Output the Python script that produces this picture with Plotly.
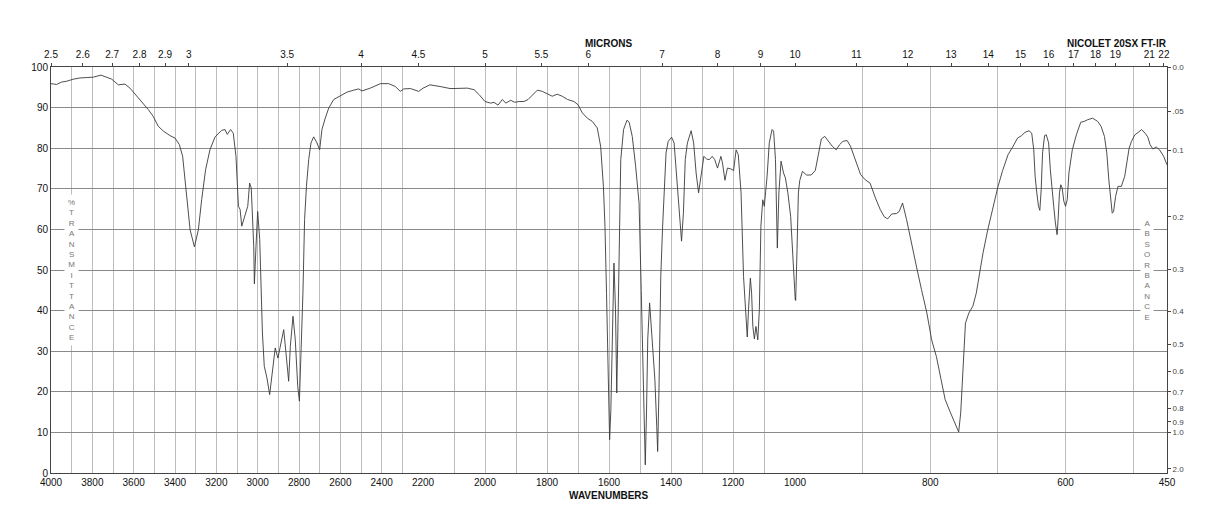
import plotly.graph_objects as go

# ---------------- data ----------------
wavenumber = [
    4000, 3973, 3948, 3924, 3892, 3860, 3827, 3795, 3758, 3731, 3706, 3674, 3642, 3618,
    3585, 3553, 3529, 3505, 3481, 3456, 3424, 3400, 3379, 3363, 3352, 3340, 3327, 3306,
    3287, 3271, 3252, 3231, 3206, 3174, 3158, 3147, 3131, 3118, 3105, 3093, 3085, 3077,
    3061, 3048, 3039, 3031, 3019, 3016, 3008, 3000, 2990, 2984, 2977, 2968, 2955, 2942,
    2931, 2915, 2902, 2890, 2874, 2863, 2850, 2842, 2829, 2818, 2806, 2798, 2789, 2781,
    2773, 2764, 2753, 2742, 2729, 2713, 2700, 2689, 2673, 2656, 2632, 2600, 2568, 2535,
    2511, 2495, 2455, 2406, 2366, 2334, 2310, 2293, 2261, 2221, 2199, 2178, 2145, 2113,
    2100, 2057, 2035, 2019, 2000, 1982, 1971, 1958, 1944, 1933, 1917, 1904, 1890, 1874,
    1861, 1847, 1831, 1815, 1799, 1783, 1767, 1751, 1734, 1713, 1700, 1686, 1670, 1654,
    1638, 1627, 1618, 1613, 1608, 1603, 1600, 1598, 1594, 1589, 1584, 1579, 1575, 1573,
    1567, 1562, 1553, 1542, 1535, 1525, 1514, 1503, 1496, 1490, 1486, 1483, 1479, 1475,
    1469, 1462, 1457, 1452, 1446, 1443, 1439, 1433, 1427, 1422, 1416, 1409, 1398, 1390,
    1382, 1374, 1366, 1360, 1354, 1347, 1335, 1327, 1319, 1311, 1303, 1294, 1285, 1276,
    1267, 1259, 1250, 1239, 1234, 1226, 1218, 1207, 1198, 1190, 1183, 1174, 1166, 1159,
    1154, 1150, 1144, 1140, 1136, 1131, 1126, 1120, 1115, 1110, 1104, 1099, 1090, 1083,
    1074, 1069, 1063, 1057, 1052, 1045, 1037, 1031, 1023, 1014, 1007, 1002, 999, 997,
    995, 993, 989, 983, 976, 970, 966, 961, 956, 951, 945, 939, 934, 929, 923, 918, 911,
    903, 896, 889, 881, 874, 868, 863, 857, 850, 846, 841, 835, 827, 820, 813, 805, 798,
    791, 784, 778, 771, 765, 761, 758, 755, 752, 750, 748, 743, 737, 732, 727, 722, 715,
    707, 700, 693, 685, 677.5, 671, 665, 660, 654, 650, 647, 645, 642.5, 640, 638, 636,
    634, 631, 628.5, 625, 622.5, 620, 617.5, 615, 612.5, 611, 609, 607, 605, 602.5, 600,
    597.5, 595, 590, 584, 577.5, 572.5, 567.5, 560, 552.5, 547.5, 542.5, 539, 536, 533.5,
    531, 529, 526, 522.5, 517.5, 512.5, 509, 506, 502.5, 497.5, 492.5, 487.5, 482.5,
    478.5, 475, 471, 466, 461, 455, 450,
]
transmittance = [
    95.9, 95.7, 96.3, 96.5, 97.0, 97.3, 97.4, 97.5, 98.0, 97.5, 97.0, 95.6, 95.8, 94.8,
    92.8, 91.1, 89.5, 87.8, 85.4, 84.2, 83.1, 82.5, 80.9, 78.0, 72.2, 65.7, 59.9, 55.7,
    59.9, 67.3, 74.7, 79.6, 82.8, 84.4, 84.6, 83.4, 84.6, 83.7, 78.0, 65.7, 64.9, 60.8,
    63.6, 65.7, 71.4, 70.2, 55.8, 46.6, 55.8, 64.4, 57.5, 47.6, 34.5, 26.3, 23.4, 19.3,
    24.2, 30.8, 28.3, 31.2, 35.3, 29.6, 22.6, 31.2, 38.6, 32.8, 21.3, 17.7, 29.6, 44.3,
    62.4, 70.6, 77.2, 81.3, 82.8, 81.3, 79.6, 84.6, 87.4, 89.9, 92.0, 92.9, 93.8, 94.3,
    94.6, 94.1, 94.8, 95.9, 95.9, 95.2, 94.0, 94.6, 94.7, 94.0, 94.8, 95.6, 95.2, 94.7,
    94.7, 94.8, 94.4, 93.2, 91.5, 91.1, 91.3, 90.6, 92.0, 91.1, 91.8, 91.3, 91.5, 91.5,
    92.0, 93.2, 94.3, 94.0, 93.4, 92.8, 93.3, 92.8, 92.0, 91.5, 90.7, 88.7, 87.4, 86.6,
    85.0, 80.5, 70.6, 60.8, 44.3, 27.9, 15.6, 8.2, 15.6, 35.5, 51.7, 40.2, 19.7, 27.9,
    52.5, 77.2, 84.6, 86.9, 86.4, 82.9, 75.5, 66.5, 45.0, 25.0, 10.0, 2.0, 15.0, 33.0,
    41.9, 34.5, 29.6, 23.0, 11.5, 5.3, 19.7, 48.4, 60.8, 70.6, 78.8, 81.7, 82.7, 81.3,
    73.1, 63.2, 57.1, 64.0, 77.2, 81.3, 84.3, 81.3, 73.9, 69.0, 73.1, 78.0, 77.3, 77.2,
    78.0, 77.2, 75.1, 78.0, 76.4, 72.1, 75.1, 74.9, 74.5, 79.6, 78.4, 69.0, 48.4, 37.8,
    33.5, 40.2, 48.0, 44.3, 36.1, 33.0, 36.1, 32.8, 40.2, 60.8, 67.3, 65.7, 73.1, 81.3,
    84.6, 84.2, 77.2, 55.4, 69.0, 76.8, 73.9, 72.7, 69.0, 63.2, 54.2, 47.0, 42.5, 55.0,
    69.0, 72.0, 74.3, 73.4, 73.4, 74.5, 78.0, 82.3, 82.9, 81.7, 80.5, 79.6, 80.9, 81.7,
    81.9, 80.5, 77.2, 73.5, 72.2, 71.4, 67.7, 64.9, 63.1, 62.6, 63.8, 63.9, 64.4, 66.5,
    62.4, 55.8, 50.5, 45.2, 39.4, 32.8, 28.7, 23.0, 18.1, 15.2, 12.8, 11.1, 10.1, 14.8,
    23.8, 32.0, 36.9, 39.4, 41.1, 44.3, 49.3, 54.2, 59.9, 65.7, 70.5, 74.5, 78.4, 80.5,
    82.5, 83.1, 83.9, 84.3, 83.7, 79.6, 73.1, 69.0, 65.7, 64.7, 69.8, 78.8, 83.1, 83.3,
    81.3, 74.7, 69.0, 65.7, 61.6, 58.7, 62.4, 69.0, 71.0, 70.2, 66.9, 65.7, 67.3, 73.9,
    79.6, 83.3, 86.4, 86.6, 87.0, 87.4, 86.6, 85.4, 82.9, 78.8, 72.2, 67.3, 64.0, 64.4,
    68.1, 70.6, 70.6, 73.1, 77.0, 80.0, 81.7, 83.3, 83.9, 84.6, 83.7, 82.8, 80.9, 79.8,
    80.3, 79.6, 78.0, 75.9,
]

# axis segments (three equal-width panels with different cm-1 scales)
segments = [(4000, 2200), (2200, 1000), (1000, 450)]
seg_grid = [
    list(range(4000, 2199, -100)),
    list(range(2100, 999, -100)),
    list(range(900, 449, -100)) + [450],
]
bottom_labels = [4000, 3800, 3600, 3400, 3200, 3000, 2800, 2600, 2400, 2200,
                 2000, 1800, 1600, 1400, 1200, 1000, 800, 600, 450]
micron_ticks = [2.5, 2.6, 2.7, 2.8, 2.9, 3, 3.5, 4, 4.5, 5, 5.5, 6, 7, 8, 9, 10,
                11, 12, 13, 14, 15, 16, 17, 18, 19, 21, 22]
absorbance_ticks = [0.0, 0.05, 0.1, 0.2, 0.3, 0.4, 0.5, 0.6, 0.7, 0.8, 0.9, 1.0, 2.0]
absorbance_labels = ["0.0", ".05", "0.1", "0.2", "0.3", "0.4", "0.5", "0.6",
                     "0.7", "0.8", "0.9", "1.0", "2.0"]

FONT = "Liberation Sans, Arial, Helvetica, sans-serif"
FRAME = "#444444"
HGRID = "#8a8a8a"
VGRID = "#bdbdbd"

fig = go.Figure()

n = len(wavenumber)
domains = [[0, 1 / 3], [1 / 3, 2 / 3], [2 / 3, 1]]
for k, (hi, lo) in enumerate(segments):
    idx = [i for i in range(n) if lo <= wavenumber[i] <= hi]
    first, last = idx[0], idx[-1]
    if first > 0:
        idx = [first - 1] + idx
    if last < n - 1:
        idx = idx + [last + 1]
    xs = [wavenumber[i] for i in idx]
    ys = [transmittance[i] for i in idx]
    sfx = "" if k == 0 else str(k + 1)
    fig.add_trace(go.Scatter(
        x=xs, y=ys, mode="lines", xaxis="x" + sfx, yaxis="y",
        line=dict(color="#3a3a3a", width=0.9), hoverinfo="skip",
    ))
    # invisible carrier trace so the top micron axis of this panel is drawn
    fig.add_trace(go.Scatter(
        x=[hi, lo], y=[50, 50], mode="markers", xaxis="x" + str(k + 4), yaxis="y",
        marker=dict(opacity=0, size=1), hoverinfo="skip",
    ))

    # bottom wavenumber axis for this panel
    labels = []
    for v in seg_grid[k]:
        if v in bottom_labels and not (k == 1 and v == 2200) and not (k == 2 and v == 1000):
            labels.append(str(v))
        else:
            labels.append("")
    fig.update_layout(**{
        "xaxis" + sfx: dict(
            domain=domains[k], range=[hi, lo], anchor="y",
            tickmode="array", tickvals=seg_grid[k], ticktext=labels,
            showgrid=True, gridcolor=VGRID, gridwidth=1,
            showline=True, linecolor=FRAME, linewidth=1,
            ticks="", zeroline=False,
            tickfont=dict(size=10, color="#111", family=FONT),
        )
    })

    # top micron axis overlaying this panel
    mic = [m for m in micron_ticks if lo <= 10000 / m <= hi]
    if k == 2:
        mic = [m for m in mic if m != 10]
    fig.update_layout(**{
        "xaxis" + str(k + 4): dict(
            domain=domains[k], range=[hi, lo], anchor="y",
            overlaying="x" + sfx, side="top",
            tickmode="array", tickvals=[10000 / m for m in mic],
            ticktext=[("%g" % m) for m in mic],
            showgrid=False, showline=True, linecolor=FRAME, linewidth=1,
            ticks="outside", ticklen=3, tickcolor=FRAME, zeroline=False,
            ticklabelstandoff=1,
            tickfont=dict(size=10, color="#111", family=FONT),
        )
    })

# invisible carrier trace for the right absorbance axis
fig.add_trace(go.Scatter(
    x=[1000, 450], y=[50, 50], mode="markers", xaxis="x3", yaxis="y2",
    marker=dict(opacity=0, size=1), hoverinfo="skip",
))

fig.update_layout(
    width=1218, height=528,
    margin=dict(l=51, r=51, t=67, b=55),
    plot_bgcolor="white", paper_bgcolor="white",
    showlegend=False,
    font=dict(family=FONT, size=10, color="#111"),
    yaxis=dict(
        range=[0, 100], anchor="x", tickmode="array",
        tickvals=list(range(0, 101, 10)),
        showgrid=True, gridcolor=HGRID, gridwidth=1,
        showline=True, linecolor=FRAME, linewidth=1,
        ticks="", zeroline=False,
        tickfont=dict(size=10, color="#111", family=FONT),
    ),
    yaxis2=dict(
        range=[0, 100], overlaying="y", side="right", anchor="x3",
        tickmode="array",
        tickvals=[100 * 10 ** (-a) for a in absorbance_ticks],
        ticktext=absorbance_labels,
        showgrid=False, showline=True, linecolor=FRAME, linewidth=1,
        ticks="outside", ticklen=3, tickcolor=FRAME, zeroline=False,
        tickfont=dict(size=8, color="#444", family=FONT),
    ),
)

ann = dict(xref="paper", yref="paper", showarrow=False)
fig.add_annotation(text="<b>MICRONS</b>", x=(609 - 51) / 1116, y=1.058,
                   xanchor="center", yanchor="middle",
                   font=dict(size=10, color="#111", family=FONT), **ann)
fig.add_annotation(text="<b>NICOLET 20SX FT-IR</b>", x=1.002, y=1.058,
                   xanchor="right", yanchor="middle",
                   font=dict(size=10, color="#111", family=FONT), **ann)
fig.add_annotation(text="<b>WAVENUMBERS</b>", x=(609 - 51) / 1116, y=-0.056,
                   xanchor="center", yanchor="middle",
                   font=dict(size=10, color="#111", family=FONT), **ann)
fig.add_annotation(text="<br>".join(list("%TRANSMITTANCE")),
                   x=(71 - 51) / 1116, y=0.5, xanchor="center", yanchor="middle",
                   bgcolor="white", borderpad=3,
                   font=dict(size=8, color="#777", family=FONT), **ann)
fig.add_annotation(text="<br>".join(list("ABSORBANCE")),
                   x=(1147.3 - 51) / 1116, y=0.5, xanchor="center", yanchor="middle",
                   bgcolor="white", borderpad=3,
                   font=dict(size=8, color="#777", family=FONT), **ann)

fig.write_html("out.html")
